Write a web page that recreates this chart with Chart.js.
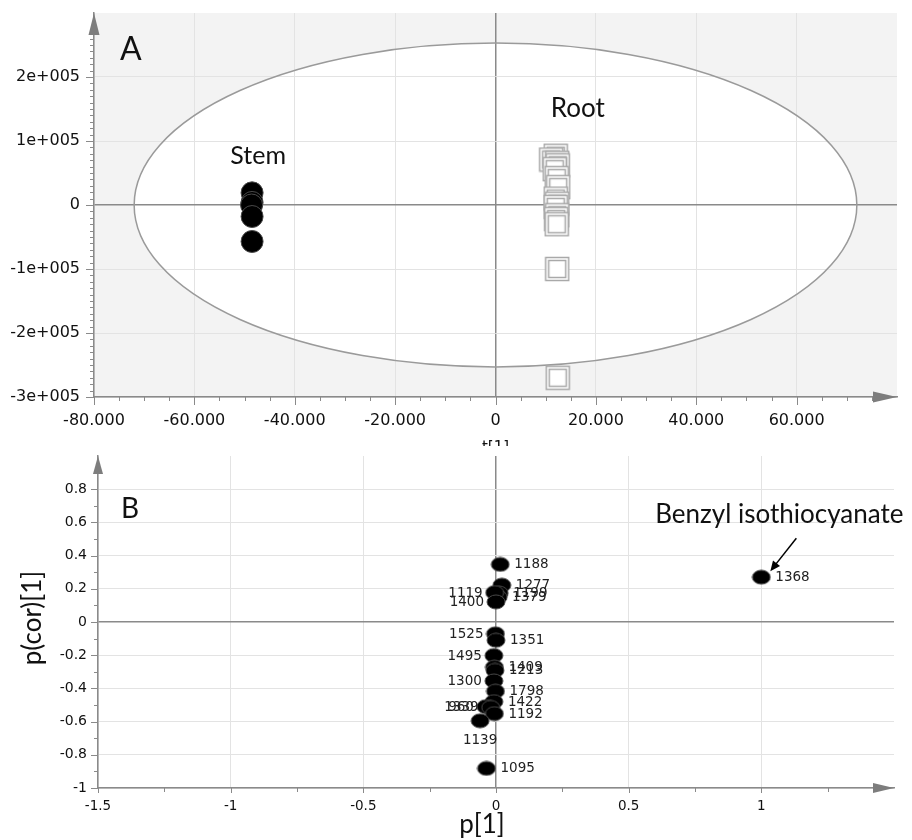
<!DOCTYPE html>
<html><head><meta charset="utf-8">
<script src="https://cdn.jsdelivr.net/npm/chart.js@4.4.1/dist/chart.umd.min.js"></script>
<style>
html,body{margin:0;padding:0;background:#fff;}
#wrap{position:relative;width:912px;height:840px;overflow:hidden;background:#fff;}
#cA{position:absolute;left:0;top:0;}
#cB{position:absolute;left:0;top:446px;}
</style></head><body>
<div id="wrap">
<canvas id="cA" width="912" height="446"></canvas>
<canvas id="cB" width="912" height="394"></canvas>
</div>
<script>
// ---------- Panel A: score plot t[1] ----------
const stemT1 = [-48500, -48500, -48600, -48500, -48500];
const stemT2 = [19000, 4000, 0, -18000, -57000];
const rootT1 = [12000, 11100, 12300, 12400, 11800, 12200, 12500, 12000, 12300, 12000, 12300, 12100, 12200, 12300, 12400];
const rootT2 = [77000, 71000, 66000, 62000, 56000, 42000, 28000, 10000, 2000, -3000, -16000, -22000, -30000, -100000, -270000];
const ellipseT1 = 72000;
const ellipseT2 = 253000;
const xTickValsA = [-80000, -60000, -40000, -20000, 0, 20000, 40000, 60000];
const xTickLabelsA = ['-80.000', '-60.000', '-40.000', '-20.000', '0', '20.000', '40.000', '60.000'];
const yTickValsA = [-300000, -200000, -100000, 0, 100000, 200000];
const yTickLabelsA = ['-3e+005', '-2e+005', '-1e+005', '0', '1e+005', '2e+005'];

// ---------- Panel B: loading plot p[1] / p(cor)[1] ----------
const varNames = ['1188','1277','1199','1379','1119','1400','1525','1351','1495','1409','1213','1300','1798','1422','960','1339','1192','1139','1095','1368'];
const p1 =    [0.016, 0.022, 0.012, 0.008, -0.005, 0.0, -0.002, 0.0, -0.008, -0.006, -0.004, -0.008, -0.002, -0.008, -0.038, -0.02, -0.006, -0.06, -0.036, 1.0];
const pcor1 = [0.347, 0.222, 0.174, 0.15, 0.177, 0.121, -0.071, -0.11, -0.202, -0.272, -0.292, -0.355, -0.417, -0.48, -0.51, -0.515, -0.552, -0.595, -0.882, 0.27];
const labelSide = ['r','r','r','r','l','l','l','r','l','r','r','l','r','r','l','l','r','b','r','r'];
const xTickValsB = [-1.5, -1, -0.5, 0, 0.5, 1];
const xTickLabelsB = ['-1.5', '-1', '-0.5', '0', '0.5', '1'];
const yTickValsB = [-1, -0.8, -0.6, -0.4, -0.2, 0, 0.2, 0.4, 0.6, 0.8];
const yTickLabelsB = ['-1', '-0.8', '-0.6', '-0.4', '-0.2', '0', '0.2', '0.4', '0.6', '0.8'];
const highlightName = 'Benzyl isothiocyanate';
const highlightVar = '1368';

function lookup(vals, labels) {
  return function (v) {
    const i = vals.findIndex(t => Math.abs(t - v) < 1e-9);
    return i < 0 ? null : labels[i];
  };
}
function isZero(c) { return c.tick && Math.abs(c.tick.value) < 1e-9; }

const AXIS = '#8a8a8a';
const GRID = '#e3e3e3';
const TXT = '#111';

function squareMarker() {
  const c = document.createElement('canvas'); c.width = 26; c.height = 26;
  const g = c.getContext('2d');
  g.fillStyle = '#fff'; g.fillRect(1, 1, 24, 24);
  g.strokeStyle = '#a9a9a9'; g.lineWidth = 1.5;
  g.strokeRect(1.5, 1.5, 23, 23);
  g.strokeRect(4.5, 4.5, 17, 17);
  return c;
}
function ellipseMarker() {
  const c = document.createElement('canvas'); c.width = 20; c.height = 16;
  const g = c.getContext('2d');
  g.beginPath(); g.ellipse(10, 8, 9, 7, 0, 0, Math.PI * 2);
  g.fillStyle = '#000'; g.fill();
  g.lineWidth = 1; g.strokeStyle = '#4a4a4a'; g.stroke();
  return c;
}

function drawTicksX(ctx, scale, y, from, to, step, majorStep, majLen, minLen) {
  ctx.beginPath();
  for (let v = from; v <= to + 1e-9; v += step) {
    const r = Math.round(v / majorStep * 1e6) / 1e6;
    const len = Math.abs(r - Math.round(r)) < 1e-6 ? majLen : minLen;
    const px = Math.round(scale.getPixelForValue(v)) + 0.5;
    ctx.moveTo(px, y); ctx.lineTo(px, y + len);
  }
  ctx.stroke();
}
function drawTicksY(ctx, scale, x, from, to, step, majorStep, majLen, minLen) {
  ctx.beginPath();
  for (let v = from; v <= to + 1e-9; v += step) {
    const r = Math.round(v / majorStep * 1e6) / 1e6;
    const len = Math.abs(r - Math.round(r)) < 1e-6 ? majLen : minLen;
    const py = Math.round(scale.getPixelForValue(v)) + 0.5;
    ctx.moveTo(x, py); ctx.lineTo(x - len, py);
  }
  ctx.stroke();
}
function arrowUp(ctx, x, tipY, len, half) {
  ctx.beginPath(); ctx.moveTo(x, tipY); ctx.lineTo(x - half, tipY + len); ctx.lineTo(x + half, tipY + len); ctx.closePath(); ctx.fill();
}
function arrowRight(ctx, tipX, y, len, half) {
  ctx.beginPath(); ctx.moveTo(tipX, y); ctx.lineTo(tipX - len, y - half); ctx.lineTo(tipX - len, y + half); ctx.closePath(); ctx.fill();
}
function fitY(w) { return s => { s.width = w; s.paddingTop = 0; s.paddingBottom = 0; }; }
function fitX(h) { return s => { s.height = h; s.paddingLeft = 0; s.paddingRight = 0; }; }

const panelAPlugin = {
  id: 'panelA',
  beforeDraw(chart) {
    const { ctx, chartArea: a, scales: { x, y } } = chart;
    ctx.save();
    ctx.fillStyle = '#f3f3f3';
    ctx.fillRect(a.left, a.top, a.right - a.left, a.bottom - a.top);
    const cx = x.getPixelForValue(0), cy = y.getPixelForValue(0);
    const rx = x.getPixelForValue(ellipseT1) - cx, ry = cy - y.getPixelForValue(ellipseT2);
    ctx.beginPath(); ctx.ellipse(cx, cy, rx, ry, 0, 0, Math.PI * 2);
    ctx.fillStyle = '#fff'; ctx.fill();
    ctx.restore();
  },
  beforeDatasetsDraw(chart) {
    const { ctx, scales: { x, y } } = chart;
    const cx = x.getPixelForValue(0), cy = y.getPixelForValue(0);
    const rx = x.getPixelForValue(ellipseT1) - cx, ry = cy - y.getPixelForValue(ellipseT2);
    ctx.save();
    ctx.beginPath(); ctx.ellipse(cx, cy, rx, ry, 0, 0, Math.PI * 2);
    ctx.strokeStyle = '#9a9a9a'; ctx.lineWidth = 1.5; ctx.stroke();
    ctx.restore();
  },
  afterDraw(chart) {
    const { ctx, chartArea: a, scales: { x, y } } = chart;
    ctx.save();
    ctx.strokeStyle = AXIS; ctx.lineWidth = 1;
    drawTicksX(ctx, x, a.bottom, -80000, 75000, 5000, 20000, 8, 4);
    drawTicksY(ctx, y, a.left, -300000, 270000, 10000, 100000, 8, 4);
    ctx.fillStyle = '#7d7d7d';
    arrowUp(ctx, a.left, a.top, 22, 5.5);
    arrowRight(ctx, a.right, a.bottom, 24, 5.5);
    ctx.fillStyle = TXT;
    ctx.textBaseline = 'alphabetic';
    ctx.font = '32px Lato';
    ctx.textAlign = 'left';
    ctx.fillText('A', 120, 60);
    ctx.font = '25px Lato';
    ctx.textAlign = 'center';
    ctx.fillText('Stem', x.getPixelForValue(-47300), y.getPixelForValue(63500));
    ctx.font = '26px Lato';
    ctx.fillText('Root', x.getPixelForValue(16400), y.getPixelForValue(137000));
    ctx.font = '15px "DejaVu Sans"';
    ctx.fillText('t[1]', (a.left + a.right) / 2, 451.5);
    ctx.restore();
  }
};

const panelBPlugin = {
  id: 'panelB',
  afterDatasetsDraw(chart) {
    const { ctx } = chart;
    const meta = chart.getDatasetMeta(0);
    ctx.save();
    ctx.fillStyle = '#222';
    ctx.font = '13.5px "DejaVu Sans"';
    ctx.textBaseline = 'middle';
    meta.data.forEach((pt, i) => {
      const s = labelSide[i];
      if (s === 'r') { ctx.textAlign = 'left'; ctx.fillText(varNames[i], pt.x + 14, pt.y + 0.5); }
      else if (s === 'l') { ctx.textAlign = 'right'; ctx.fillText(varNames[i], pt.x - 12, pt.y + 0.5); }
      else { ctx.textAlign = 'center'; ctx.fillText(varNames[i], pt.x, pt.y + 20); }
    });
    const hi = varNames.indexOf(highlightVar);
    const hp = meta.data[hi];
    ctx.strokeStyle = '#000'; ctx.fillStyle = '#000'; ctx.lineWidth = 1.5;
    const sx = hp.x + 35, sy = hp.y - 39, ex = hp.x + 9, ey = hp.y - 6;
    const ang = Math.atan2(ey - sy, ex - sx);
    ctx.beginPath(); ctx.moveTo(sx, sy); ctx.lineTo(ex - 8 * Math.cos(ang), ey - 8 * Math.sin(ang)); ctx.stroke();
    ctx.beginPath();
    ctx.moveTo(ex, ey);
    ctx.lineTo(ex - 10 * Math.cos(ang) + 4.5 * Math.sin(ang), ey - 10 * Math.sin(ang) - 4.5 * Math.cos(ang));
    ctx.lineTo(ex - 10 * Math.cos(ang) - 4.5 * Math.sin(ang), ey - 10 * Math.sin(ang) + 4.5 * Math.cos(ang));
    ctx.closePath(); ctx.fill();
    ctx.fillStyle = TXT;
    ctx.font = '26px Lato';
    ctx.textAlign = 'center'; ctx.textBaseline = 'alphabetic';
    ctx.fillText(highlightName, hp.x + 18, hp.y - 54);
    ctx.restore();
  },
  afterDraw(chart) {
    const { ctx, chartArea: a, scales: { x, y } } = chart;
    ctx.save();
    ctx.strokeStyle = AXIS; ctx.lineWidth = 1;
    drawTicksX(ctx, x, a.bottom, -1.5, 1.25, 0.25, 0.5, 5, 4);
    drawTicksY(ctx, y, a.left, -1, 0.8, 0.1, 0.2, 7, 4);
    ctx.fillStyle = '#7d7d7d';
    arrowUp(ctx, a.left, a.top, 18, 5);
    arrowRight(ctx, a.right, a.bottom, 21, 5);
    ctx.fillStyle = TXT;
    ctx.font = '28px Lato';
    ctx.textAlign = 'left'; ctx.textBaseline = 'alphabetic';
    ctx.fillText('B', 121, 72);
    ctx.font = '26px Lato';
    ctx.textAlign = 'center';
    ctx.fillText('p[1]', 482, 387);
    ctx.translate(33, 172);
    ctx.rotate(-Math.PI / 2);
    ctx.textBaseline = 'middle';
    ctx.fillText('p(cor)[1]', 0, 0);
    ctx.restore();
  }
};

Chart.defaults.font.family = '"DejaVu Sans"';
Chart.defaults.color = TXT;

new Chart(document.getElementById('cA'), {
  type: 'scatter',
  data: {
    datasets: [
      {
        label: 'Stem',
        data: stemT1.map((v, i) => ({ x: v, y: stemT2[i] })),
        pointRadius: 11, pointHoverRadius: 11,
        backgroundColor: '#000', borderColor: '#4a4a4a', borderWidth: 1
      },
      {
        label: 'Root',
        data: rootT1.map((v, i) => ({ x: v, y: rootT2[i] })),
        pointStyle: squareMarker(), pointRadius: 12, pointHoverRadius: 12
      }
    ]
  },
  options: {
    responsive: false, animation: false, devicePixelRatio: 1, events: [],
    layout: { padding: { top: 11, right: 15, left: 0, bottom: 0 } },
    plugins: { legend: { display: false }, tooltip: { enabled: false } },
    scales: {
      x: {
        type: 'linear', min: -80000, max: 80000,
        afterFit: fitX(49),
        ticks: { stepSize: 20000, autoSkip: false, maxRotation: 0, padding: 14, font: { size: 16 }, color: TXT, callback: lookup(xTickValsA, xTickLabelsA) },
        grid: { drawTicks: false, color: c => isZero(c) ? AXIS : GRID, lineWidth: c => isZero(c) ? 1.5 : 1 },
        border: { color: AXIS, width: 1.5 }
      },
      y: {
        type: 'linear', min: -300000, max: 300000,
        afterFit: fitY(94),
        ticks: { stepSize: 100000, autoSkip: false, padding: 14, font: { size: 16 }, color: TXT, callback: lookup(yTickValsA, yTickLabelsA) },
        grid: { drawTicks: false, color: c => isZero(c) ? AXIS : GRID, lineWidth: c => isZero(c) ? 1.5 : 1 },
        border: { color: AXIS, width: 1.5 }
      }
    }
  },
  plugins: [panelAPlugin]
});

new Chart(document.getElementById('cB'), {
  type: 'scatter',
  data: {
    datasets: [
      {
        label: 'Variables',
        data: p1.map((v, i) => ({ x: v, y: pcor1[i] })),
        pointStyle: ellipseMarker(), pointRadius: 9, pointHoverRadius: 9
      }
    ]
  },
  options: {
    responsive: false, animation: false, devicePixelRatio: 1, events: [],
    layout: { padding: { top: 6, right: 18, left: 0, bottom: 0 } },
    plugins: { legend: { display: false }, tooltip: { enabled: false } },
    scales: {
      x: {
        type: 'linear', min: -1.5, max: 1.5,
        afterFit: fitX(52),
        ticks: { stepSize: 0.5, autoSkip: false, maxRotation: 0, padding: 10, font: { size: 13.5 }, color: TXT, callback: lookup(xTickValsB, xTickLabelsB) },
        grid: { drawTicks: false, color: c => isZero(c) ? AXIS : GRID, lineWidth: c => isZero(c) ? 1.5 : 1 },
        border: { color: AXIS, width: 1.5 }
      },
      y: {
        type: 'linear', min: -1, max: 1,
        afterFit: fitY(98),
        ticks: { stepSize: 0.2, autoSkip: false, padding: 11, font: { size: 14 }, color: TXT, callback: lookup(yTickValsB, yTickLabelsB) },
        grid: { drawTicks: false, color: c => isZero(c) ? AXIS : GRID, lineWidth: c => isZero(c) ? 1.5 : 1 },
        border: { color: AXIS, width: 1.5 }
      }
    }
  },
  plugins: [panelBPlugin]
});
</script>
</body></html>
